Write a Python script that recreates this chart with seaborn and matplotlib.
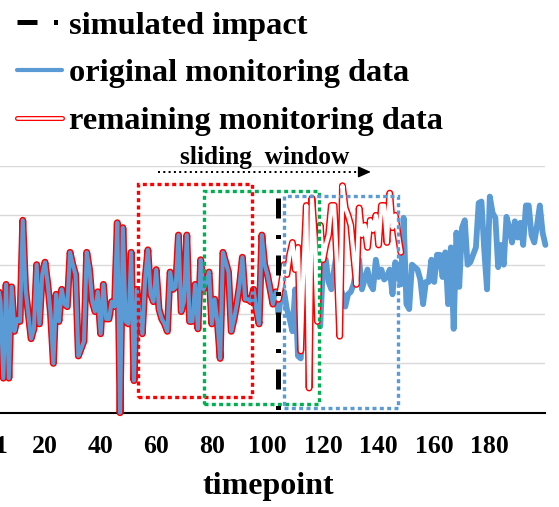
import numpy as np
import pandas as pd
import matplotlib.pyplot as plt
import seaborn as sns
from matplotlib.patches import Rectangle
from matplotlib.lines import Line2D
from matplotlib.legend_handler import HandlerTuple
from matplotlib.transforms import ScaledTranslation

# original monitoring data, timepoints 1..200
original = [
    2.3, 1.9, 2.6, 2.25, 0.7, 2.6, 0.7, 2.55, 1.65, 1.9,
    1.85, 3.9, 2.5, 2.0, 1.5, 1.7, 3.0, 1.8, 2.8, 3.05,
    2.6, 2.0, 1.0, 2.4, 1.85, 2.5, 2.2, 2.15, 3.25, 3.0,
    2.8, 1.15, 1.3, 1.45, 3.25, 2.9, 2.25, 2.05, 2.45, 1.6,
    2.6, 1.9, 1.9, 2.25, 2.15, 3.85, 0.0, 3.75, 1.85, 1.8,
    3.25, 0.65, 2.5, 2.0, 1.6, 2.7, 3.3, 2.4, 2.25, 2.9,
    2.1, 1.9, 1.8, 1.65, 2.85, 2.5, 2.55, 3.6, 2.05, 2.25,
    3.6, 1.85, 1.85, 2.6, 1.7, 3.1, 2.5, 2.65, 2.85, 1.8,
    2.3, 1.85, 1.1, 3.25, 3.05, 2.85, 1.65, 1.9, 2.2, 2.6,
    3.15, 2.3, 2.3, 2.25, 2.5, 2.1, 1.8, 3.6, 3.0, 2.8,
    2.5, 2.2, 2.45, 2.0, 2.4, 2.45, 2.1, 1.9, 1.65, 2.5,
    1.15, 1.1, 2.2, 2.85, 2.4, 2.45, 2.6, 2.1, 1.75, 3.0,
    3.1, 2.65, 2.5, 2.9, 3.25, 2.6, 2.4, 2.15, 2.4, 2.45,
    2.6, 2.9, 3.1, 2.5, 2.7, 2.9, 2.6, 2.5, 3.1, 2.75,
    2.9, 2.7, 2.75, 2.9, 2.4, 3.05, 2.8, 2.6, 3.95, 2.2,
    2.1, 3.0, 2.95, 2.9, 2.7, 2.2, 2.65, 2.65, 3.1, 2.65,
    3.2, 3.2, 2.75, 3.25, 2.2, 3.35, 1.7, 3.65, 2.55, 3.75,
    3.9, 3.0, 3.05, 3.2, 3.35, 4.25, 4.28, 3.3, 2.5, 4.38,
    4.05, 3.95, 2.95, 3.4, 3.0, 3.97, 3.75, 3.45, 3.88, 3.55,
    3.85, 3.4, 4.2, 4.2, 3.6, 3.45, 3.8, 4.2, 3.65, 3.4,
]
# remaining monitoring data after the simulated impact, timepoints 104..148
impacted = [
    2.3, 2.6, 3.0, 2.8, 3.2, 3.45, 2.9, 3.35, 1.25, 3.0,
    4.2, 0.5, 4.35, 3.55, 1.85, 3.8, 3.1, 3.4, 3.6, 4.2,
    4.2, 3.05, 1.55, 4.6, 4.15, 4.0, 3.8, 3.2, 2.6, 4.15,
    3.6, 3.8, 3.35, 3.9, 3.7, 4.0, 3.4, 4.2, 4.2, 3.45,
    4.45, 3.75, 4.0, 3.6, 3.25,
]
impact_t = 104
xtick_pos = [1, 20, 40, 60, 80, 100, 120, 140, 160, 180]
xtick_labels = [str(v) for v in xtick_pos]
legend_labels = ["simulated impact", "original monitoring data", "remaining monitoring data"]

t = np.arange(1, len(original) + 1)
remaining = original[:impact_t - 1] + impacted
t_rem = np.arange(1, len(remaining) + 1)
df = pd.DataFrame({"t": t, "value": original})
df_rem = pd.DataFrame({"t": t_rem, "value": remaining})

BLUE = "#5B9BD5"
RED = "#FF0000"
GREEN = "#00B050"

sns.set_style("white")
plt.rcParams["font.family"] = ["Liberation Serif", "DejaVu Serif"]
plt.rcParams["font.weight"] = "bold"
plt.rcParams["lines.solid_capstyle"] = "round"
plt.rcParams["text.color"] = "black"
plt.rcParams["axes.labelcolor"] = "black"
plt.rcParams["xtick.color"] = "black"

fig = plt.figure(figsize=(5.59, 5.07), dpi=100)
ax = fig.add_axes([-7.8 / 559, 94.3 / 507, 553.2 / 559, 246.7 / 507])

# blue thick line
sns.lineplot(data=df, x="t", y="value", color=BLUE, linewidth=4.2, estimator=None,
             ax=ax, zorder=2, legend=False)
# red double line (outer red, centre shows blue before impact, white after)
sns.lineplot(data=df_rem, x="t", y="value", color=RED, linewidth=5.0, estimator=None,
             ax=ax, zorder=3, legend=False)
sns.lineplot(data=df_rem.iloc[:impact_t], x="t", y="value", color=BLUE, linewidth=2.9,
             estimator=None, ax=ax, zorder=4, legend=False)
sns.lineplot(data=df_rem.iloc[impact_t - 1:], x="t", y="value", color="white", linewidth=2.9,
             estimator=None, ax=ax, zorder=4, legend=False)
for ln in ax.lines:
    ln.set_clip_on(False)

# sliding windows
dots = (0, (1.2, 1.0))
for (x0, x1, y0, y1, c) in [(53.4, 94.4, 0.32, 4.64, RED),
                            (77.3, 118.6, 0.18, 4.50, GREEN),
                            (106.0, 147.1, 0.105, 4.40, BLUE)]:
    ax.add_patch(Rectangle((x0, y0), x1 - x0, y1 - y0, fill=False, edgecolor=c,
                           linewidth=2.4, linestyle=dots, zorder=6))

# simulated impact
dashdot = (0, (4, 3.3, 0.8, 3.3))
ax.plot([103.9, 103.9], [4.36, 0.05], color="black", linewidth=3.6, linestyle=dashdot,
        dash_capstyle="butt", zorder=7)

# sliding arrow
ax.plot([60.6, 134.5], [4.88, 4.88], color="black", linewidth=1.44, linestyle=(0, (1, 1.65)),
        dash_capstyle="butt", zorder=7, clip_on=False)
ax.annotate("", xy=(137.2, 4.88), xytext=(133.5, 4.88),
            arrowprops=dict(arrowstyle="-|>,head_length=0.38,head_width=0.17", color="black",
                            lw=1, mutation_scale=20, shrinkA=0, shrinkB=0), zorder=7)
ax.text(99.1, 5.04, "sliding  window", ha="center", va="baseline", fontsize=18.3,
        fontweight="bold")

ax.set_xlim(1, 200)
ax.set_ylim(0, 5)
ax.set_yticks([0, 1, 2, 3, 4, 5])
ax.set_yticklabels([])
ax.set_xticks(xtick_pos)
ax.set_xticklabels(xtick_labels, fontsize=18.5, fontweight="bold")
ax.tick_params(axis="both", length=0)
ax.tick_params(axis="x", pad=16)
# first label sits partly in view, as in the original crop
first = ax.get_xticklabels()[0]
first.set_transform(first.get_transform() + ScaledTranslation(9 / 100, 0, fig.dpi_scale_trans))
ax.set_xlabel("timepoint", fontsize=23, fontweight="bold", labelpad=10)
ax.set_ylabel("")
ax.yaxis.grid(True, color="#D9D9D9", linewidth=1.0)
ax.xaxis.grid(False)
ax.set_axisbelow(True)
sns.despine(ax=ax, left=True)
ax.spines["bottom"].set_color("black")
ax.spines["bottom"].set_linewidth(1.5)

h1 = Line2D([], [], color="black", linewidth=3.6, linestyle=dashdot, dash_capstyle="butt")
h2 = Line2D([], [], color=BLUE, linewidth=3.0)
h3 = (Line2D([], [], color=RED, linewidth=3.6), Line2D([], [], color="white", linewidth=1.8))
ax.legend([h1, h2, h3], legend_labels, handler_map={tuple: HandlerTuple(ndivide=1)},
          loc="upper left", bbox_to_anchor=(17 / 559, 1 - 11 / 507), bbox_transform=fig.transFigure,
          frameon=False, fontsize=23.3, handlelength=1.4, handletextpad=0.2,
          labelspacing=0.56, borderpad=0, borderaxespad=0)

fig.savefig("out.png", dpi=100)
